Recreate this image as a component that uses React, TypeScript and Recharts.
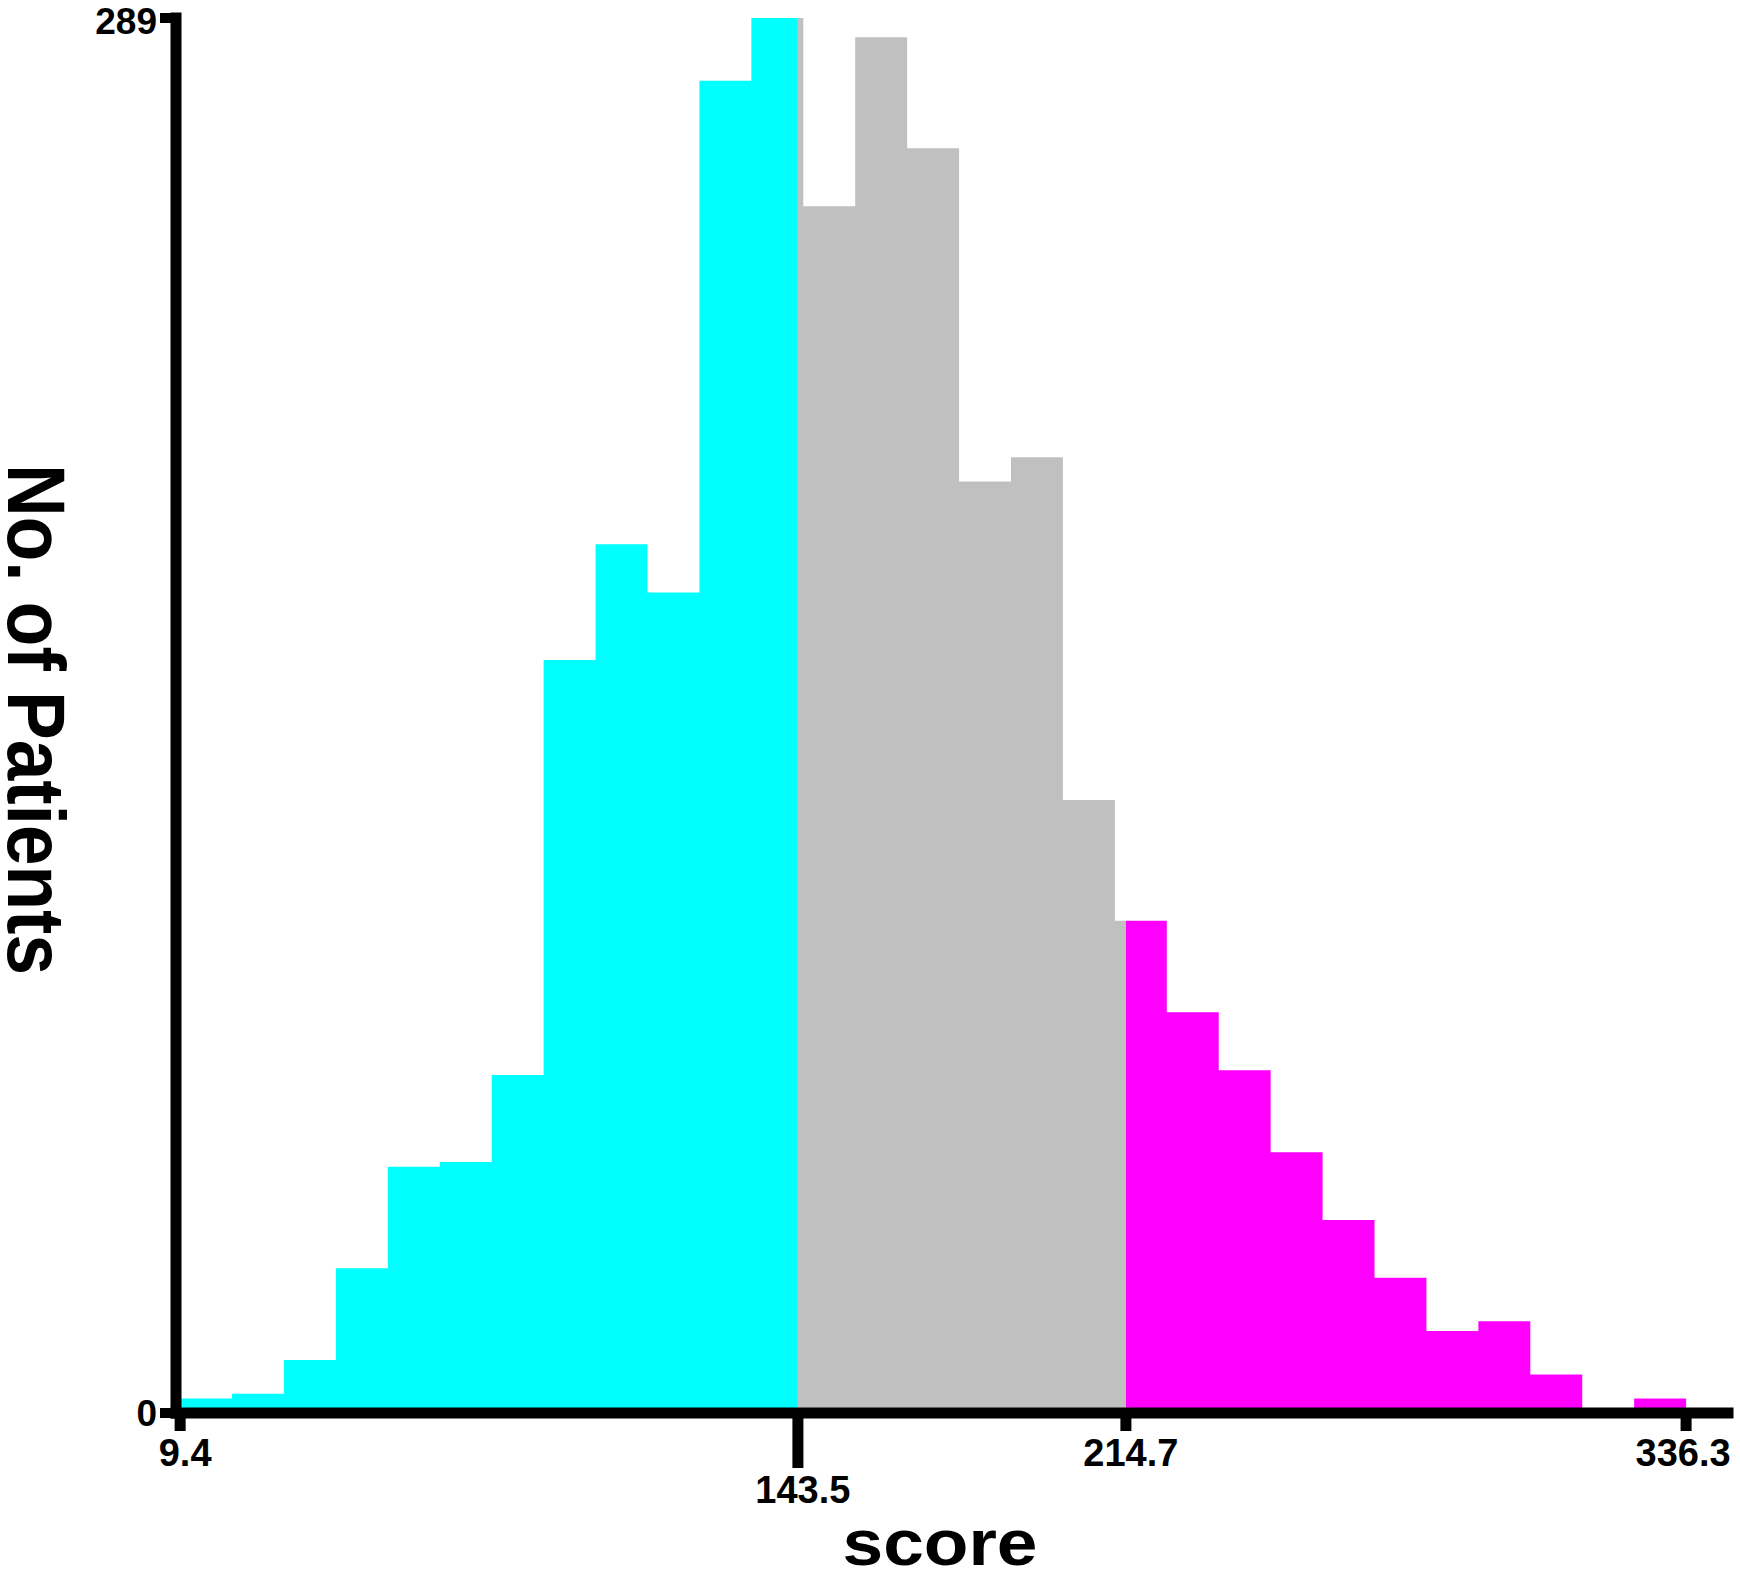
import { AreaChart, Area, XAxis, YAxis, Label } from "recharts";

const SCORE_MIN = 9.4;
const SCORE_MAX = 336.3;
const LOW_CUT = 143.5;
const HIGH_CUT = 214.7;
const Y_MAX = 289;

// patients per score bin, 29 equal bins from SCORE_MIN to SCORE_MAX
const binCounts = [
  3, 4, 11, 30, 51, 52, 70, 156, 180, 170,
  276, 289, 250, 285, 262, 193, 198, 127, 102, 83,
  71, 54, 40, 28, 17, 19, 8, 0, 3,
];

const xTicks = [SCORE_MIN, LOW_CUT, HIGH_CUT, SCORE_MAX];
const yTicks = [0, Y_MAX];

const FONT = '"Liberation Sans", Arial, Helvetica, sans-serif';

interface StepPoint {
  x: number;
  low: number | null;
  mid: number | null;
  high: number | null;
}

// turn the bins into step points, split at the two cut-offs
function buildSteps(): StepPoint[] {
  const w = (SCORE_MAX - SCORE_MIN) / binCounts.length;
  const countAt = (x: number) => {
    const i = Math.min(binCounts.length - 1, Math.floor((x - SCORE_MIN) / w + 1e-9));
    return binCounts[i];
  };
  const xs = binCounts
    .map((_, i) => SCORE_MIN + i * w)
    .concat([LOW_CUT, HIGH_CUT, SCORE_MAX])
    .sort((a, b) => a - b);
  return xs.map((x) => {
    const v = countAt(x);
    return {
      x,
      low: x <= LOW_CUT ? v : null,
      mid: x >= LOW_CUT && x <= HIGH_CUT ? v : null,
      high: x >= HIGH_CUT ? v : null,
    };
  });
}

const steps = buildSteps();

function XTick({ x, y, payload }: any) {
  const len = payload.value === LOW_CUT ? 55 : 18;
  const shift = payload.value === SCORE_MAX ? -3 : 5;
  return (
    <g>
      <line x1={x} y1={y} x2={x} y2={y + len} stroke="#000" strokeWidth={11} />
      <text
        x={x + shift}
        y={y + len + 8}
        dy="0.71em"
        textAnchor="middle"
        fill="#000"
        fontSize={38}
        fontWeight={700}
        fontFamily={FONT}
      >
        {payload.value}
      </text>
    </g>
  );
}

function YTick({ x, y, payload }: any) {
  return (
    <text
      x={x}
      y={y}
      dy={payload.value === Y_MAX ? 16 : 13}
      textAnchor="end"
      fill="#000"
      fontSize={37}
      fontWeight={700}
      fontFamily={FONT}
    >
      {payload.value}
    </text>
  );
}

function YTitle({ viewBox }: any) {
  const vb = viewBox ?? { x: 0, y: 18, width: 176, height: 1395 };
  const bx = vb.x + 8;
  const cy = vb.y + vb.height / 2 + 4;
  return (
    <text
      x={0}
      y={0}
      transform={`translate(${bx}, ${cy}) rotate(90) scale(1, 1.12)`}
      textAnchor="middle"
      fill="#000"
      fontSize={73}
      fontWeight={700}
      fontFamily={FONT}
    >
      No. of Patients
    </text>
  );
}

function XTitle({ viewBox }: any) {
  const vb = viewBox ?? { x: 176, y: 1413, width: 1552, height: 167 };
  const cx = vb.x + vb.width / 2 - 12;
  const by = vb.y + vb.height - 15;
  return (
    <text
      x={cx}
      y={by}
      textAnchor="middle"
      fill="#000"
      fontSize={64}
      fontWeight={700}
      fontFamily={FONT}
      textLength={195}
      lengthAdjust="spacingAndGlyphs"
    >
      score
    </text>
  );
}

export default function App() {
  return (
    <div style={{ width: 1740, height: 1580, background: "#fff" }}>
      <style>{"body{margin:0;background:#fff}"}</style>
      <AreaChart
        width={1740}
        height={1580}
        data={steps}
        margin={{ top: 18, right: 12, left: 0, bottom: 0 }}
      >
        <XAxis
          type="number"
          dataKey="x"
          domain={[8.5, 345.4]}
          ticks={xTicks}
          interval={0}
          height={167}
          tickSize={0}
          tickMargin={0}
          tickLine={false}
          tick={<XTick />}
          axisLine={{ stroke: "#000", strokeWidth: 11, strokeLinecap: "square" }}
        >
          <Label content={<XTitle />} />
        </XAxis>
        <YAxis
          type="number"
          domain={[0, Y_MAX]}
          ticks={yTicks}
          interval={0}
          width={176}
          tickSize={16}
          tickMargin={3}
          tickLine={{ stroke: "#000", strokeWidth: 10 }}
          axisLine={{ stroke: "#000", strokeWidth: 11, strokeLinecap: "square" }}
          tick={<YTick />}
        >
          <Label content={<YTitle />} />
        </YAxis>
        <Area
          type="stepAfter"
          dataKey="low"
          fill="#00FFFF"
          fillOpacity={1}
          stroke="none"
          dot={false}
          activeDot={false}
          isAnimationActive={false}
        />
        <Area
          type="stepAfter"
          dataKey="mid"
          fill="#C0C0C0"
          fillOpacity={1}
          stroke="none"
          dot={false}
          activeDot={false}
          isAnimationActive={false}
        />
        <Area
          type="stepAfter"
          dataKey="high"
          fill="#FF00FF"
          fillOpacity={1}
          stroke="none"
          dot={false}
          activeDot={false}
          isAnimationActive={false}
        />
      </AreaChart>
    </div>
  );
}
